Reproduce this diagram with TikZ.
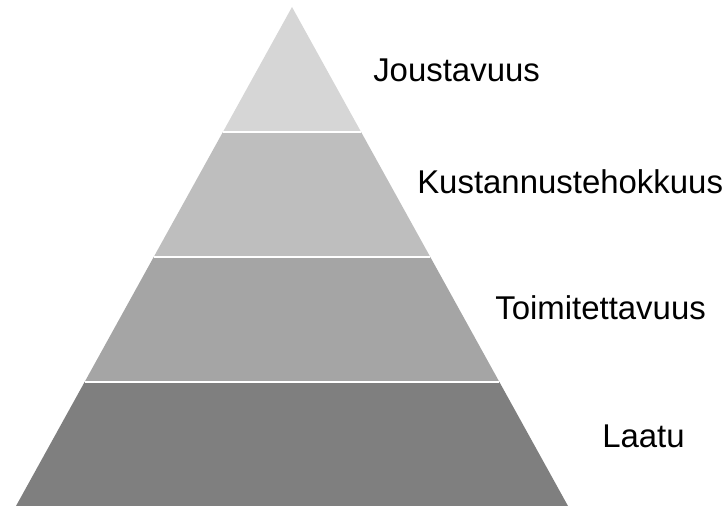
\documentclass[tikz,border=0pt]{standalone}
\usepackage{fontspec}
\setmainfont{Liberation Sans}

\definecolor{tierone}{HTML}{D6D6D6}
\definecolor{tiertwo}{HTML}{BEBEBE}
\definecolor{tierthree}{HTML}{A5A5A5}
\definecolor{tierfour}{HTML}{7F7F7F}

\begin{document}
\begin{tikzpicture}[x=0.75pt, y=-0.75pt,
    tierlabel/.style={anchor=base west, inner sep=0pt, font=\fontsize{24.7}{30}\selectfont}]
    \useasboundingbox (0, 0) rectangle (727, 506);

    % layers of the pyramid, top to bottom
    \fill [tierone] (292, 7) -- (361.1, 132) -- (222.9, 132) -- cycle;
    \fill [tiertwo] (222.9, 132) -- (361.1, 132) -- (430.3, 257) -- (153.7, 257) -- cycle;
    \fill [tierthree] (153.7, 257) -- (430.3, 257) -- (499.4, 382) -- (84.6, 382) -- cycle;
    \fill [tierfour] (84.6, 382) -- (499.4, 382) -- (568, 506) -- (16, 506) -- cycle;

    % white gaps between the layers
    \draw [white, line width=1.5pt] (222.9, 132) -- (361.1, 132);
    \draw [white, line width=1.5pt] (153.7, 257) -- (430.3, 257);
    \draw [white, line width=1.5pt] (84.6, 382) -- (499.4, 382);

    \node [tierlabel] (jousto) at (373, 82) {Joustavuus};
    \node [tierlabel] (kustannus) at (417, 193) {Kustannustehokkuus};
    \node [tierlabel] (toimitus) at (495, 319) {Toimitettavuus};
    \node [tierlabel] (laatu) at (602, 447) {Laatu};
\end{tikzpicture}
\end{document}
